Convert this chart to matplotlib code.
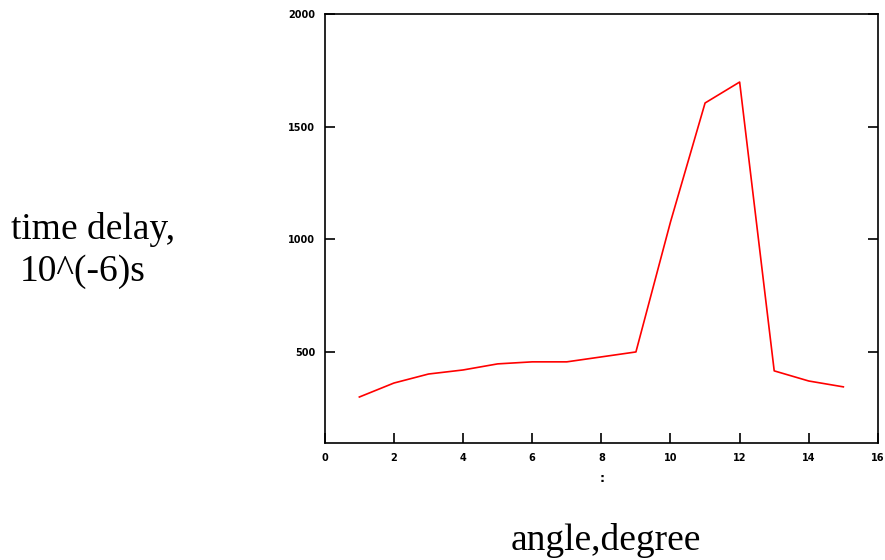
import numpy as np
import matplotlib.pyplot as plt

# angle (degree) vs time delay (10^-6 s)
angle = [1, 2, 3, 4, 5, 6, 7, 8, 9, 10, 11, 12, 13, 14, 15]
delay = [300, 362, 402, 420, 447, 456, 456, 478, 500, 1077, 1605, 1698, 416, 371, 345]

x_ticks = [0, 2, 4, 6, 8, 10, 12, 14, 16]
y_ticks = [500, 1000, 1500, 2000]

fig = plt.figure(figsize=(8.85, 5.6), dpi=100)
ax = fig.add_axes([0.367, 0.209, 0.625, 0.766])

ax.plot(angle, delay, color='red', lw=1.2)

ax.set_xlim(0, 16)
ax.set_ylim(96, 2000)
ax.set_xticks(x_ticks)
ax.set_yticks(y_ticks)
ax.tick_params(direction='in', length=7, width=1.2, labelsize=7,
               right=True, top=False, pad=7)
for lab in ax.get_xticklabels() + ax.get_yticklabels():
    lab.set_fontweight('heavy')
for s in ax.spines.values():
    s.set_linewidth(1.2)

# small colon under the x axis, as in the original
fig.text(0.68, 0.145, ':', ha='center', va='center', fontsize=9, fontweight='bold')

fig.text(0.012, 0.59, 'time delay,', family='Liberation Serif', fontsize=27,
         ha='left', va='center')
fig.text(0.022, 0.515, '10^(-6)s', family='Liberation Serif', fontsize=27,
         ha='left', va='center')
fig.text(0.685, 0.035, 'angle,degree', family='Liberation Serif', fontsize=27,
         ha='center', va='center')

fig.savefig('out.png', dpi=100)
